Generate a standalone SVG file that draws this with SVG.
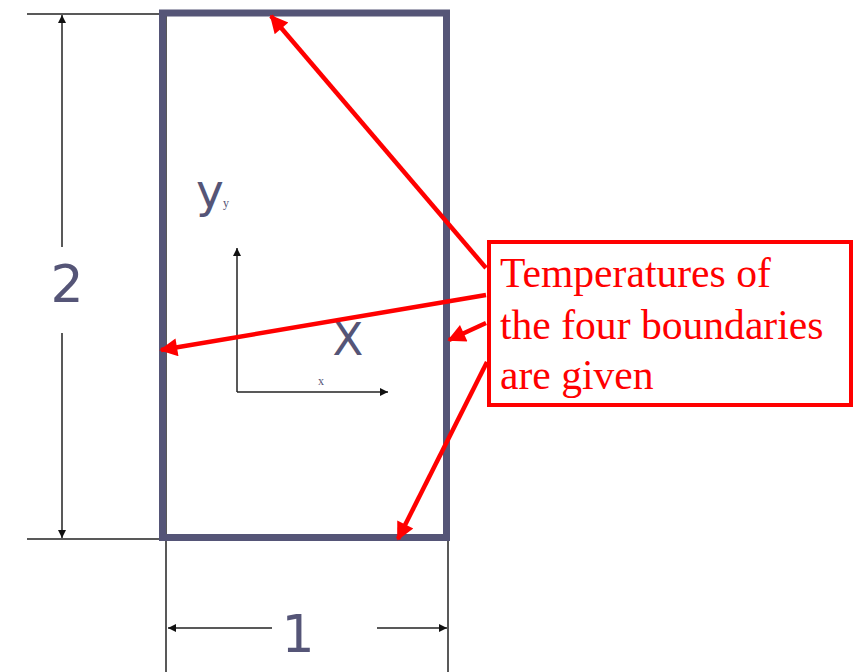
<svg xmlns="http://www.w3.org/2000/svg" width="853" height="672" viewBox="0 0 853 672">
<style>
.dim{stroke:#222;stroke-width:1.5;fill:none}
.big{fill:#555577;font-family:"DejaVu Sans",Verdana,sans-serif}
.small{fill:#555577;font-family:"Liberation Serif",serif;font-size:12px}
.red{stroke:#ff0000;stroke-width:4.5;fill:none}
.call{fill:#ff0000;font-family:"Liberation Serif","Times New Roman",serif;font-size:41.6px}
</style>
<defs>
<marker id="ah" viewBox="0 0 10 10" refX="10" refY="5" markerWidth="10" markerHeight="8" markerUnits="userSpaceOnUse" orient="auto">
<path d="M0,0 L10,5 L0,10 z" fill="#111"/>
</marker>
<marker id="rh" viewBox="0 0 10 10" refX="9" refY="5" markerWidth="22" markerHeight="18" markerUnits="userSpaceOnUse" orient="auto">
<path d="M0,0 L10,5 L0,10 z" fill="#ff0000"/>
</marker>
</defs>
<rect width="853" height="672" fill="#fff"/>
<g id="dimensions">
<line class="dim" x1="27" y1="14" x2="160" y2="14"/>
<line class="dim" x1="27" y1="539" x2="163" y2="539"/>
<line class="dim" x1="62" y1="247" x2="62" y2="15" marker-end="url(#ah)"/>
<line class="dim" x1="62" y1="333" x2="62" y2="538" marker-end="url(#ah)"/>
<line class="dim" x1="166" y1="16" x2="166" y2="672"/>
<line class="dim" x1="448" y1="540" x2="448" y2="672"/>
<line class="dim" x1="272" y1="628" x2="168" y2="628" marker-end="url(#ah)"/>
<line class="dim" x1="377" y1="628" x2="447" y2="628" marker-end="url(#ah)"/>
<text class="big" x="67" y="302" font-size="52" text-anchor="middle">2</text>
<text class="big" x="298" y="652" font-size="52" text-anchor="middle">1</text>
</g>
<g id="domain">
<rect x="162.5" y="13" width="284" height="524.5" fill="none" stroke="#555577" stroke-width="7"/>
</g>
<g id="axes">
<line class="dim" x1="237" y1="392" x2="237" y2="248" marker-end="url(#ah)"/>
<line class="dim" x1="237" y1="392" x2="388" y2="392" marker-end="url(#ah)"/>
<text class="big" x="196" y="207" font-size="47">y</text>
<text class="small" x="223" y="207">y</text>
<text class="big" x="348" y="355" font-size="45" text-anchor="middle">X</text>
<text class="small" x="318" y="385">x</text>
</g>
<g id="connectors">
<line class="red" x1="486" y1="268" x2="271" y2="16" marker-end="url(#rh)"/>
<line class="red" x1="486" y1="295" x2="161" y2="350" marker-end="url(#rh)"/>
<line class="red" x1="486" y1="323" x2="449" y2="340" marker-end="url(#rh)"/>
<line class="red" x1="487" y1="362" x2="398" y2="539" marker-end="url(#rh)"/>
</g>
<g id="callout">
<rect x="489" y="242" width="362" height="163" fill="#fff" stroke="#ff0000" stroke-width="4"/>
<text class="call" x="500" y="287">Temperatures of</text>
<text class="call" x="500" y="339">the four boundaries</text>
<text class="call" x="500" y="389">are given</text>
</g>
</svg>
